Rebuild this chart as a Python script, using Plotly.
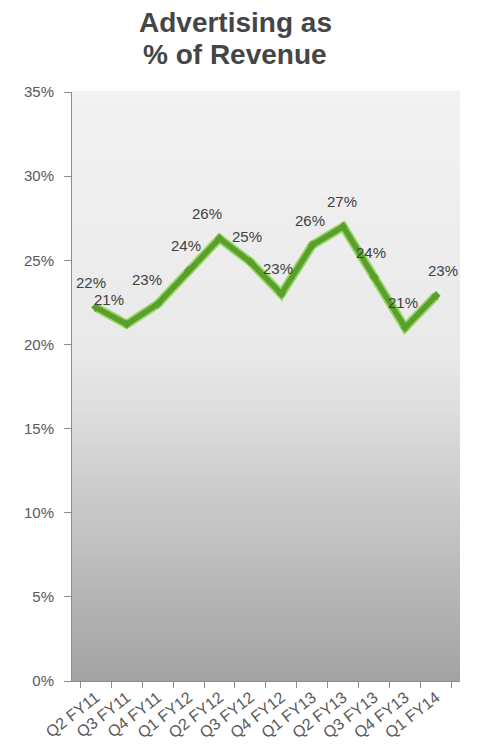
import plotly.graph_objects as go

categories = ["Q2 FY11", "Q3 FY11", "Q4 FY11", "Q1 FY12", "Q2 FY12", "Q3 FY12",
              "Q4 FY12", "Q1 FY13", "Q2 FY13", "Q3 FY13", "Q4 FY13", "Q1 FY14"]
ad_pct = [22.2, 21.2, 22.4, 24.4, 26.3, 24.9, 23.0, 25.9, 27.0, 24.0, 21.0, 22.9]
labels = ["22%", "21%", "23%", "24%", "26%", "25%", "23%", "26%", "27%", "24%", "21%", "23%"]
label_dx = [-5, -18, -11, -3, -12, -3, -3, -2, -1, -3, -2, 7]
y_ticks = [0, 5, 10, 15, 20, 25, 30, 35]
y_tick_text = ["0%", "5%", "10%", "15%", "20%", "25%", "30%", "35%"]
title_lines = ["Advertising as", "% of Revenue"]

fig = go.Figure()

# gradient background bands
n = 90
shapes = []
def lerp(a, b, t):
    return a + (b - a) * t
for i in range(n):
    t = (i + 0.5) / n  # 0 top -> 1 bottom
    if t < 0.45:
        g = lerp(242, 233, t / 0.45)
    else:
        g = lerp(233, 163, (t - 0.45) / 0.55)
    g = int(round(g))
    shapes.append(dict(type="rect", xref="x domain", yref="y domain",
                       x0=0, x1=1, y0=1 - (i + 1) / n, y1=1 - i / n + 0.002,
                       fillcolor=f"rgb({g},{g},{g})", line=dict(width=0), layer="below"))

fig.add_trace(go.Scatter(x=categories, y=ad_pct, mode="lines",
                         line=dict(color="#95d665", width=9), hoverinfo="skip",
                         showlegend=False))
fig.add_trace(go.Scatter(x=categories, y=ad_pct, mode="lines+markers",
                         line=dict(color="#5a9e2c", width=5.5),
                         marker=dict(symbol="diamond", size=7, color="#5a9e2c"),
                         showlegend=False))

annotations = []
for c, v, lab, dx in zip(categories, ad_pct, labels, label_dx):
    annotations.append(dict(x=c, y=v, text=lab, showarrow=False, xshift=dx, yshift=25,
                            font=dict(family="Arial", size=15, color="#404040")))

# title as two lines (plot area spans figure y 84..673)
plot_top, plot_bottom = 84, 673
for line, fy in zip(title_lines, [14, 46]):
    annotations.append(dict(text=line, xref="paper", yref="paper",
                            x=(227 - 64) / 388, y=(plot_bottom - fy) / (plot_bottom - plot_top),
                            xanchor="center", yanchor="middle", showarrow=False,
                            font=dict(family="Arial", size=28, color="#454545", weight="bold")))

fig.update_layout(
    width=485, height=749,
    margin=dict(l=64, r=33, t=84, b=76, autoexpand=False),
    paper_bgcolor="white",
    plot_bgcolor="rgba(0,0,0,0)",
    shapes=shapes,
    annotations=annotations,
    font=dict(family="Arial", color="#595959"),
)
fig.update_yaxes(range=[0, 35], tickvals=y_ticks, ticktext=y_tick_text, showgrid=False,
                 zeroline=False, showline=True, linecolor="#8c8c8c", linewidth=1,
                 ticks="outside", ticklen=7, tickcolor="#8c8c8c", automargin=False,
                 ticklabelstandoff=7,
                 tickfont=dict(family="Arial", size=15, color="#595959"))
fig.update_xaxes(type="category", showgrid=False, showline=True, linecolor="#8c8c8c",
                 linewidth=1, ticks="outside", ticklen=6, tickcolor="#8c8c8c",
                 tickson="boundaries", tickangle=-38, automargin=False,
                 tickfont=dict(family="Arial", size=16, color="#595959"))

fig.write_html("out.html")
